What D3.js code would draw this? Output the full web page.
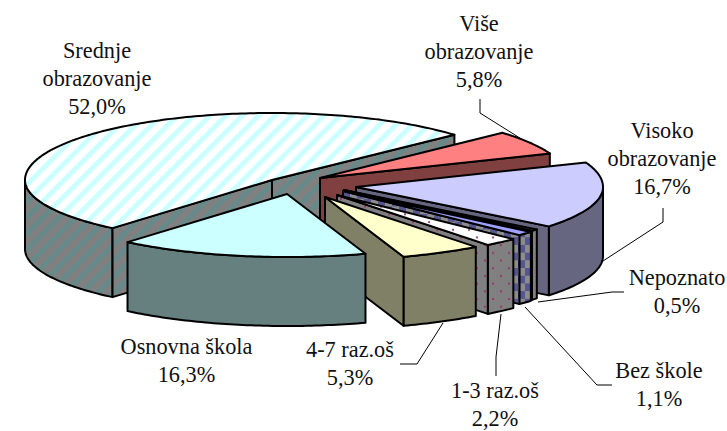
<!DOCTYPE html>
<html>
<head>
<meta charset="utf-8">
<script src="https://cdn.jsdelivr.net/npm/d3@7"></script>
<style>
  html, body { margin: 0; padding: 0; background: #fff; }
  svg { display: block; }
  text { font-family: "Liberation Serif", serif; font-size: 22.3px; fill: #111; text-anchor: middle; }
</style>
</head>
<body>
<svg id="chart"></svg>
<script>
// clockwise from the top of the pie, starting at the Srednje / Vise boundary
const categories = ['Više obrazovanje', 'Visoko obrazovanje', 'Nepoznato', 'Bez škole', '1-3 raz.oš', '4-7 raz.oš', 'Osnovna škola', 'Srednje obrazovanje']
const shares = [5.8, 16.7, 0.5, 1.1, 2.2, 5.3, 16.3, 52.0]
const shareLabels = ['5,8%', '16,7%', '0,5%', '1,1%', '2,2%', '5,3%', '16,3%', '52,0%']

const width = 727
const height = 431

var svg = d3.select('#chart').attr('width', width).attr('height', height)
var defs = svg.append('defs')

// hatch fills
function stripes (id, bg, fg) {
  var p = defs.append('pattern').attr('id', id).attr('patternUnits', 'userSpaceOnUse')
    .attr('width', 11.5).attr('height', 12).attr('patternTransform', 'rotate(45)')
  p.append('rect').attr('width', 11.5).attr('height', 12).attr('fill', bg)
  p.append('rect').attr('width', 5).attr('height', 12).attr('fill', fg)
}
function dots (id, bg) {
  var p = defs.append('pattern').attr('id', id).attr('patternUnits', 'userSpaceOnUse')
    .attr('width', 16).attr('height', 15.4)
  p.append('rect').attr('width', 16).attr('height', 15.4).attr('fill', bg)
  p.append('circle').attr('cx', 4).attr('cy', 4).attr('r', 1.1).attr('fill', '#993366')
  p.append('circle').attr('cx', 12).attr('cy', 11.7).attr('r', 1.1).attr('fill', '#993366')
}
function checks (id, bg, fg) {
  var p = defs.append('pattern').attr('id', id).attr('patternUnits', 'userSpaceOnUse')
    .attr('width', 14).attr('height', 15.4)
  p.append('rect').attr('width', 14).attr('height', 15.4).attr('fill', bg)
  p.append('rect').attr('width', 7).attr('height', 7.7).attr('fill', fg)
  p.append('rect').attr('x', 7).attr('y', 7.7).attr('width', 7).attr('height', 7.7).attr('fill', fg)
}
stripes('stripeTop', '#ffffff', '#ccffff')
stripes('stripeWall', '#808080', '#668a8a')
dots('dotTop', '#ffffff')
dots('dotWall', '#808080')
checks('checkWall', '#8c8c8c', '#55558f')

const topFills = ['#ff8080', '#ccccff', '#222222', '#a0a0ff', 'url(#dotTop)', '#ffffcc', '#ccffff', 'url(#stripeTop)']
const wallFills = ['#804040', '#666680', '#808080', 'url(#checkWall)', 'url(#dotWall)', '#808066', '#668080', 'url(#stripeWall)']

// how far each slice was pulled out of the pie, px
const explodeX = [12, 48, 36, 35, 29, 17, -21, -36]
const explodeY = [-11, -2, 1, 2, 6, 8, 5, -9]

const centerX = 308
const centerY = 189
const depth = 69
const deg = Math.PI / 180

var rimX = d3.scaleLinear().domain([-1, 1]).range([-247, 247])
var rimY = d3.scaleLinear().domain([-1, 0, 1]).range([-67, 0, 63])

var pie = d3.pie().sort(null).value((d) => d)
  .startAngle(47.6 * deg).endAngle(407.6 * deg)
var arcs = pie(shares)

var rim = (a) => [rimX(Math.sin(a)), rimY(-Math.cos(a))]
var line = d3.line()

function rimPoints (a0, a1) {
  var n = Math.max(2, Math.ceil((a1 - a0) / deg))
  return d3.range(n + 1).map((i) => rim(a0 + (a1 - a0) * i / n))
}

// top edge p -> q pushed down by the slice depth
function wall (p, q) {
  return [p, q, [q[0], q[1] + depth], [p[0], p[1] + depth]]
}

function drawSlice (i) {
  var d = arcs[i]
  var g = svg.append('g')
    .attr('transform', `translate(${centerX + explodeX[i]},${centerY + explodeY[i]})`)
    .attr('stroke', '#000')
    .attr('stroke-width', 2)
    .attr('stroke-linejoin', 'round')

  // outer wall only where the rim faces the viewer
  var front0 = Math.max(d.startAngle, 90 * deg)
  var front1 = Math.min(d.endAngle, 270 * deg)
  if (front1 > front0) {
    var top = rimPoints(front0, front1)
    var bottom = top.map((p) => [p[0], p[1] + depth]).reverse()
    g.append('path').attr('d', line(top.concat(bottom)) + 'Z').attr('fill', wallFills[i])
  }

  // cut faces
  if (Math.sin(d.startAngle) < 0) {
    g.append('path').attr('d', line(wall([0, 0], rim(d.startAngle))) + 'Z').attr('fill', wallFills[i])
  }
  if (Math.sin(d.endAngle) > 0) {
    g.append('path').attr('d', line(wall([0, 0], rim(d.endAngle))) + 'Z').attr('fill', wallFills[i])
  }

  // top face
  g.append('path')
    .attr('d', line([[0, 0]].concat(rimPoints(d.startAngle, d.endAngle))) + 'Z')
    .attr('fill', topFills[i])
}

// back to front
;[7, 0, 1, 2, 3, 4, 5, 6].forEach(drawSlice)

// leader lines
const leaders = [
  [[480, 99], [480, 113], [523, 140]],
  [[663, 208], [663, 222], [603, 261]],
  [[624, 292], [612, 292], [538, 302]],
  [[612, 385], [597, 385], [525, 307]],
  [[496, 376], [496, 357], [501, 314]],
  [[400, 364], [417, 364], [443, 323]]
]
svg.append('g')
  .selectAll('path')
  .data(leaders)
  .join('path')
  .attr('d', (d) => line(d))
  .attr('fill', 'none')
  .attr('stroke', '#000')
  .attr('stroke-width', 1)

// labels: x centre and first baseline per slice
const labelX = [479, 662, 677, 659, 495, 350, 186.5, 97]
const labelY = [31, 138, 285, 378, 398, 357, 354, 58]
const lineGap = 28

arcs.forEach((d, i) => {
  var name = categories[i]
  var lines = name.endsWith('obrazovanje') ? name.split(' ') : [name]
  lines.concat(shareLabels[i]).forEach((t, k) => {
    svg.append('text')
      .attr('x', labelX[i])
      .attr('y', labelY[i] + k * lineGap)
      .text(t)
  })
})
</script>
</body>
</html>
